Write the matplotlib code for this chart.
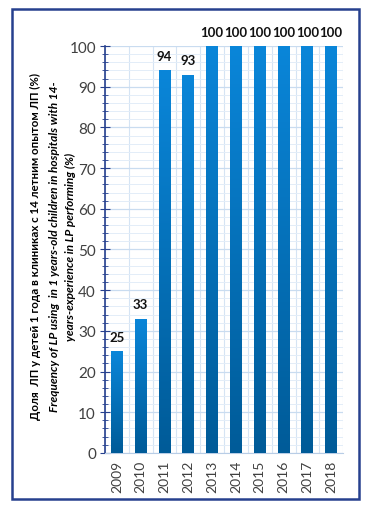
import numpy as np
import matplotlib.pyplot as plt
from matplotlib.colors import LinearSegmentedColormap
from matplotlib.patches import Rectangle
from matplotlib.ticker import MultipleLocator

years = ['2009', '2010', '2011', '2012', '2013', '2014', '2015', '2016', '2017', '2018']
values = [25, 33, 94, 93, 100, 100, 100, 100, 100, 100]

ylabel_ru = 'Доля  ЛП у детей 1 года в клиниках с 14 летним опытом ЛП (%)'
ylabel_en = ('Frequency of LP using  in 1 years-old children in hospitals with 14-\n'
             'years-experience in LP performing (%)')

plt.rcParams['font.family'] = ['Lato', 'Open Sans', 'DejaVu Sans']

fig = plt.figure(figsize=(3.67, 5.06), dpi=100)
ax = fig.add_axes([0.286, 0.103, 0.649, 0.804])

# рамка вокруг всей картинки
fig.patches.append(Rectangle((12 / 367, 6 / 506), 347 / 367, 490 / 506,
                             transform=fig.transFigure, fill=False,
                             edgecolor='#26408e', linewidth=1.8))

x = np.arange(len(years))
bars = ax.bar(x, values, width=0.5, color='none', edgecolor='none', zorder=3)

# градиент внутри каждого столбца
cmap = LinearSegmentedColormap.from_list('grad', ['#005b98', '#0a86d9'])
grad = np.linspace(0, 1, 256).reshape(-1, 1)
for b in bars:
    x0, w, h = b.get_x(), b.get_width(), b.get_height()
    im = ax.imshow(grad, cmap=cmap, origin='lower', aspect='auto',
                   extent=(x0, x0 + w, 0, h), zorder=3)
    im.set_clip_path(b)

for xi, v in zip(x, values):
    ax.text(xi, v + 2, str(v), ha='center', va='bottom', fontsize=9.5,
            fontweight='bold', color='#111111')

ax.set_xlim(-0.5, len(years) - 0.5)
ax.set_ylim(0, 100)
ax.set_xticks(x)
ax.set_xticklabels(years, rotation=90, fontsize=10, color='#404040')
ax.yaxis.set_major_locator(MultipleLocator(10))
ax.yaxis.set_minor_locator(MultipleLocator(2))
ax.xaxis.set_minor_locator(MultipleLocator(1, offset=0.5))
ax.tick_params(axis='y', which='major', direction='inout', length=7,
               color='#26408e', labelsize=11, labelcolor='#404040', pad=3)
ax.tick_params(axis='y', which='minor', direction='inout', length=4,
               color='#26408e')
ax.tick_params(axis='x', which='both', length=0, pad=5)

ax.grid(True, which='major', axis='y', color='#c9dcf0', linewidth=0.9, zorder=0)
ax.grid(True, which='minor', axis='y', color='#e3edf8', linewidth=0.7, zorder=0)
ax.grid(True, which='minor', axis='x', color='#d5e4f4', linewidth=0.8, zorder=0)
ax.set_axisbelow(True)

for s in ['top', 'right']:
    ax.spines[s].set_visible(False)
ax.spines['left'].set_color('#26408e')
ax.spines['left'].set_linewidth(1.2)
ax.spines['bottom'].set_color('#b8cde6')

fig.text(0.097, 0.512, ylabel_ru, rotation=90, ha='center', va='center',
         fontsize=8.3, fontweight='bold')
fig.text(0.170, 0.512, ylabel_en, rotation=90, ha='center', va='center',
         fontsize=8.6, fontweight='bold', fontstyle='italic', linespacing=1.6)

fig.savefig('out.png', dpi=100)
